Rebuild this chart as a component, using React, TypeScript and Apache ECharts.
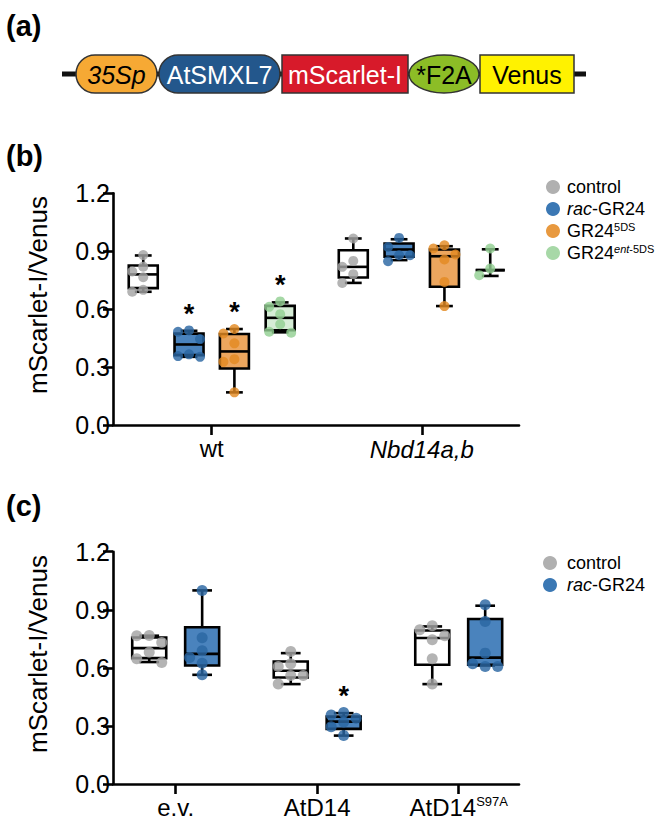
import React, { useEffect, useRef } from 'react';
import * as echarts from 'echarts';

// ---------- categories & labels ----------
const groupsB = ['wt', 'Nbd14a,b'];
const groupsC = ['e.v.', 'AtD14', 'AtD14S97A'];
const groupLabelsB = ['wt', '{i|Nbd14a,b}'];
const groupLabelsC = ['e.v.', 'AtD14', 'AtD14{s|S97A}'];
const treatmentsB = ['control', 'rac-GR24', 'GR24 5DS', 'GR24 ent-5DS'];
const treatmentsC = ['control', 'rac-GR24'];
const yTicks = [0, 0.3, 0.6, 0.9, 1.2];
const yTitle = 'mScarlet-I/Venus';

// ---------- panel (b): individual points, per group [wt, Nbd14a,b] ----------
const bControlPts = [[0.88, 0.82, 0.795, 0.765, 0.70, 0.69], [0.966, 0.85, 0.819, 0.781, 0.736]];
const bRacPts = [[0.49, 0.483, 0.445, 0.366, 0.357, 0.353], [0.969, 0.922, 0.879, 0.879, 0.848]];
const b5dsPts = [[0.497, 0.474, 0.423, 0.341, 0.327, 0.169], [0.931, 0.914, 0.883, 0.857, 0.741, 0.616]];
const bEntPts = [[0.64, 0.612, 0.574, 0.522, 0.483, 0.478], [0.914, 0.81, 0.776]];
// box stats [min, q1, median, q3, max]
const bControlBox = [[0.69, 0.709, 0.78, 0.826, 0.878], [0.736, 0.764, 0.819, 0.905, 0.966]];
const bRacBox = [[0.353, 0.362, 0.417, 0.473, 0.488], [0.854, 0.871, 0.909, 0.94, 0.962]];
const b5dsBox = [[0.169, 0.293, 0.381, 0.471, 0.497], [0.616, 0.716, 0.874, 0.909, 0.926]];
const bEntBox = [[0.48, 0.491, 0.555, 0.617, 0.635], [0.772, 0.802, 0.802, 0.802, 0.91]];
const bStars = [[0, 0], [1, 0], [1, 0], [1, 0]];

// ---------- panel (c): per group [e.v., AtD14, AtD14S97A] ----------
const cControlPts = [[0.767, 0.766, 0.731, 0.681, 0.647, 0.628], [0.684, 0.621, 0.607, 0.56, 0.56, 0.516], [0.817, 0.797, 0.766, 0.745, 0.647, 0.516]];
const cRacPts = [[1.0, 0.755, 0.688, 0.653, 0.624, 0.564], [0.369, 0.357, 0.34, 0.32, 0.296, 0.25], [0.926, 0.84, 0.676, 0.621, 0.607, 0.607]];
const cControlBox = [[0.63, 0.65, 0.702, 0.757, 0.766], [0.516, 0.55, 0.585, 0.633, 0.676], [0.516, 0.616, 0.754, 0.793, 0.814]];
const cRacBox = [[0.564, 0.612, 0.672, 0.81, 1.0], [0.25, 0.285, 0.322, 0.348, 0.366], [0.612, 0.616, 0.653, 0.852, 0.921]];
const cStars = [[0, 0, 0], [0, 1, 0]];

// ---------- styles ----------
const FONT = 'Liberation Sans, Arial, Helvetica, sans-serif';
const pointColB = ['#a3a3a3', '#2b67a2', '#e38a22', '#93d093'];
const fillColB = ['#ffffff', '#4a83bd', '#eca65e', '#d6edd6'];
const legendColB = ['#b0b0b0', '#3b78b4', '#e8993f', '#a7d8a7'];

const GRID_LEFT = 113;
const GRID_W = 406;
const B_TOP = 193.3, B_H = 231.7;
const C_TOP = 551.7, C_H = 232.3;
const offB = [-0.326, -0.108, 0.108, 0.326];
const offC = [-0.187, 0.187];

function swarm(values: number[], pxPerUnit: number, minDist: number): number[] {
  const placed: { y: number; s: number }[] = [];
  return values.map((v) => {
    const y = v * pxPerUnit;
    let best = 0;
    let bestD = -1;
    for (const s of [0, -1, 1]) {
      const ds = placed.filter((p) => p.s === s).map((p) => Math.abs(p.y - y));
      const d = ds.length ? Math.min(...ds) : Infinity;
      if (d >= minDist) { best = s; break; }
      if (d > bestD) { bestD = d; best = s; }
    }
    placed.push({ y, s: best });
    return best;
  });
}

function boxSeries(name: string, boxes: number[][], stars: number[], off: number, fill: string, legendColor: string, axis: number, boxW: number) {
  return {
    type: 'custom',
    name,
    xAxisIndex: axis,
    yAxisIndex: axis,
    itemStyle: { color: legendColor },
    z: 2,
    encode: { x: 0, y: [1, 2, 3, 4, 5] },
    data: boxes.map((b, gi) => [gi, ...b, stars[gi]]),
    renderItem: (params: any, api: any) => {
      const gi = api.value(0);
      const mn = api.value(1), q1 = api.value(2), md = api.value(3), q3 = api.value(4), mx = api.value(5);
      const star = api.value(6);
      const xc = api.coord([gi + off, 0])[0];
      const yOf = (v: number) => api.coord([gi + off, v])[1];
      const line = { stroke: '#000', lineWidth: 2.6 };
      const cap = boxW * 0.58;
      const children: any[] = [
        { type: 'line', shape: { x1: xc, y1: yOf(mn), x2: xc, y2: yOf(q1) }, style: line },
        { type: 'line', shape: { x1: xc, y1: yOf(q3), x2: xc, y2: yOf(mx) }, style: line },
        { type: 'line', shape: { x1: xc - cap / 2, y1: yOf(mn), x2: xc + cap / 2, y2: yOf(mn) }, style: line },
        { type: 'line', shape: { x1: xc - cap / 2, y1: yOf(mx), x2: xc + cap / 2, y2: yOf(mx) }, style: line },
        { type: 'rect', shape: { x: xc - boxW / 2, y: yOf(q3), width: boxW, height: yOf(q1) - yOf(q3) }, style: { fill, stroke: '#000', lineWidth: 2.6 } },
        { type: 'line', shape: { x1: xc - boxW / 2, y1: yOf(md), x2: xc + boxW / 2, y2: yOf(md) }, style: line },
      ];
      if (star) {
        children.push({
          type: 'text', x: xc, y: yOf(mx) - 17,
          style: { text: '*', fontSize: 27, fontWeight: 'bold', fontFamily: FONT, align: 'center', verticalAlign: 'middle', fill: '#000' },
        });
      }
      return { type: 'group', children };
    },
  };
}

function pointSeries(name: string, pts: number[][], off: number, color: string, axis: number, pxPerUnit: number, step: number, r: number) {
  const data: number[][] = [];
  pts.forEach((arr, gi) => {
    const slots = swarm(arr, pxPerUnit, r * 2);
    arr.forEach((v, k) => data.push([gi, v, slots[k]]));
  });
  return {
    type: 'custom',
    name,
    xAxisIndex: axis,
    yAxisIndex: axis,
    itemStyle: { color },
    z: 3,
    encode: { x: 0, y: 1 },
    data,
    renderItem: (params: any, api: any) => {
      const p = api.coord([api.value(0) + off, api.value(1)]);
      return { type: 'circle', shape: { cx: p[0] + api.value(2) * step, cy: p[1], r }, style: { fill: color, opacity: 0.82 } };
    },
  };
}

const axisLineStyle = { color: '#000', width: 2.6 };

function makeXAxis(grid: number, min: number, max: number, labels: string[]) {
  const vals = labels.map((_, i) => i);
  return {
    type: 'value', gridIndex: grid, min, max,
    splitLine: { show: false },
    axisLine: { show: true, onZero: false, lineStyle: axisLineStyle },
    axisTick: { show: true, customValues: vals, length: 10, lineStyle: axisLineStyle },
    axisLabel: {
      show: true, customValues: vals, margin: 11, color: '#000', fontSize: 24, fontFamily: FONT,
      formatter: (v: number) => labels[Math.round(v)] ?? '',
      rich: {
        i: { fontStyle: 'italic', fontSize: 24, fontFamily: FONT, color: '#000', lineHeight: 27 },
        s: { fontSize: 13, fontFamily: FONT, color: '#000', verticalAlign: 'top', lineHeight: 14 },
      },
    },
  };
}

function makeYAxis(grid: number) {
  return {
    type: 'value', gridIndex: grid, min: yTicks[0], max: yTicks[yTicks.length - 1], interval: 0.3,
    splitLine: { show: false },
    axisLine: { show: true, onZero: false, lineStyle: axisLineStyle },
    axisTick: { show: true, length: 10, lineStyle: axisLineStyle },
    axisLabel: { show: true, margin: 3, color: '#000', fontSize: 25, fontFamily: FONT, formatter: (v: number) => v.toFixed(1) },
  };
}

const legendRich = {
  i: { fontStyle: 'italic', fontSize: 18, fontFamily: FONT, color: '#000', lineHeight: 20 },
  s: { fontSize: 11, fontFamily: FONT, color: '#000', verticalAlign: 'top', lineHeight: 12 },
  si: { fontSize: 11, fontStyle: 'italic', fontFamily: FONT, color: '#000', verticalAlign: 'top', lineHeight: 12 },
};
const legendFormatter = (name: string) => {
  if (name === 'rac-GR24') return '{i|rac}-GR24';
  if (name === 'GR24 5DS') return 'GR24{s|5DS}';
  if (name === 'GR24 ent-5DS') return 'GR24{si|ent}{s|-5DS}';
  return name;
};

function diagram() {
  const cy = 74, top = 55, h = 38;
  const txt = (x: number, text: string, fill: string, italic = false) => ({
    type: 'text', x, y: cy + 1,
    style: { text, fill, fontSize: 25, fontStyle: italic ? 'italic' : 'normal', fontFamily: FONT, align: 'center', verticalAlign: 'middle' },
  });
  const stroke = { stroke: '#333', lineWidth: 1.5 };
  return [
    { type: 'line', shape: { x1: 62, y1: cy, x2: 586, y2: cy }, style: { stroke: '#111', lineWidth: 5 } },
    { type: 'rect', shape: { x: 76, y: top, width: 81, height: h, r: 19 }, style: { fill: '#f6a934', ...stroke } },
    txt(116.5, '35Sp', '#000', true),
    { type: 'rect', shape: { x: 159, y: top, width: 121, height: h, r: 19 }, style: { fill: '#23578c', ...stroke } },
    txt(219.5, 'AtSMXL7', '#fff'),
    { type: 'rect', shape: { x: 282, y: top, width: 126, height: h }, style: { fill: '#d71a2a', ...stroke } },
    txt(345, 'mScarlet-I', '#fff'),
    { type: 'ellipse', shape: { cx: 444, cy, rx: 35, ry: 19 }, style: { fill: '#8cbd26', ...stroke } },
    txt(444, '*F2A', '#000'),
    { type: 'rect', shape: { x: 480, y: top, width: 94, height: h }, style: { fill: '#fff200', ...stroke } },
    txt(527, 'Venus', '#000'),
  ];
}

export default function App() {
  const ref = useRef<HTMLDivElement>(null);
  useEffect(() => {
    if (!ref.current) return;
    const chart = echarts.init(ref.current, null, { renderer: 'svg' });
    const pxB = B_H / 1.2;
    const pxC = C_H / 1.2;
    const bPts = [bControlPts, bRacPts, b5dsPts, bEntPts];
    const bBox = [bControlBox, bRacBox, b5dsBox, bEntBox];
    const cPts = [cControlPts, cRacPts];
    const cBox = [cControlBox, cRacBox];
    const series: any[] = [];
    treatmentsB.forEach((t, k) => {
      series.push(boxSeries(t, bBox[k], bStars[k], offB[k], fillColB[k], legendColB[k], 0, 29));
    });
    treatmentsB.forEach((t, k) => {
      series.push(pointSeries(t, bPts[k], offB[k], pointColB[k], 0, pxB, 11, 5));
    });
    treatmentsC.forEach((t, k) => {
      series.push(boxSeries(t, cBox[k], cStars[k], offC[k], fillColB[k], legendColB[k], 1, 34));
    });
    treatmentsC.forEach((t, k) => {
      series.push(pointSeries(t, cPts[k], offC[k], pointColB[k], 1, pxC, 12.5, 5.5));
    });

    const panelLabel = (text: string, y: number) => ({
      type: 'text', x: 6, y,
      style: { text, fontSize: 29, fontWeight: 'bold', fontFamily: FONT, fill: '#000', align: 'left', verticalAlign: 'middle' },
    });
    const yTitleEl = (y: number) => ({
      type: 'text', x: 38, y, rotation: Math.PI / 2,
      style: { text: yTitle, fontSize: 26, fontFamily: FONT, fill: '#000', align: 'center', verticalAlign: 'middle' },
    });

    chart.setOption({
      animation: false,
      backgroundColor: '#fff',
      grid: [
        { left: GRID_LEFT, width: GRID_W, top: B_TOP, height: B_H },
        { left: GRID_LEFT, width: GRID_W, top: C_TOP, height: C_H },
      ],
      xAxis: [makeXAxis(0, -0.47, 1.463, groupLabelsB), makeXAxis(1, -0.443, 2.426, groupLabelsC)],
      yAxis: [makeYAxis(0), makeYAxis(1)],
      legend: [
        {
          data: treatmentsB, orient: 'vertical', left: 546, top: 177, padding: 0, itemGap: 2,
          itemWidth: 14, itemHeight: 14, icon: 'circle', selectedMode: false,
          formatter: legendFormatter,
          textStyle: { fontSize: 18, fontFamily: FONT, color: '#000', lineHeight: 20, padding: [0, 0, 0, 2], rich: legendRich },
        },
        {
          data: treatmentsC, orient: 'vertical', left: 543, top: 553, padding: 0, itemGap: 2,
          itemWidth: 14, itemHeight: 14, icon: 'circle', selectedMode: false,
          formatter: legendFormatter,
          textStyle: { fontSize: 18, fontFamily: FONT, color: '#000', lineHeight: 20, padding: [0, 0, 0, 5], rich: legendRich },
        },
      ],
      graphic: [
        panelLabel('(a)', 26),
        panelLabel('(b)', 156),
        panelLabel('(c)', 506),
        yTitleEl(295),
        yTitleEl(654),
        ...diagram(),
      ],
      series,
    });
    return () => chart.dispose();
  }, []);
  return <div ref={ref} style={{ position: 'absolute', left: 0, top: 0, width: 666, height: 830 }} />;
}
